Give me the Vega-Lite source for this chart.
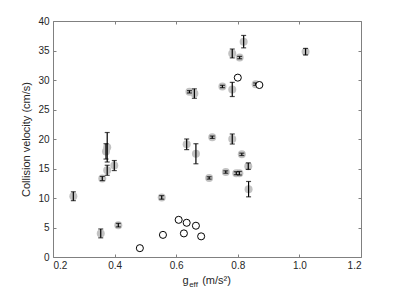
{
  "$schema": "https://vega.github.io/schema/vega-lite/v6.json",
  "autosize": "none",
  "padding": {"left": 53, "top": 21, "right": 38, "bottom": 42},
  "width": 308,
  "height": 236,
  "background": "white",
  "config": {
    "view": {"stroke": "#808080", "strokeWidth": 1},
    "font": "Liberation Sans",
    "axis": {"grid": false, "domainColor": "#808080", "tickColor": "#808080", "labelColor": "#262626", "titleColor": "#262626", "labelFontSize": 10, "titleFontSize": 11, "titleFontWeight": "normal", "tickSize": -3, "labelFont": "Liberation Sans", "titleFont": "Liberation Sans"}
  },
  "datasets": {
    "gray": [
      {"x": 0.266, "y": 10.3, "lo": 9.55, "hi": 11.05},
      {"x": 0.355, "y": 4.0, "lo": 3.25, "hi": 4.75},
      {"x": 0.412, "y": 5.4, "lo": 5.1, "hi": 5.7},
      {"x": 0.36, "y": 13.3, "lo": 12.95, "hi": 13.65},
      {"x": 0.376, "y": 14.7, "lo": 13.85, "hi": 15.55},
      {"x": 0.399, "y": 15.5, "lo": 14.65, "hi": 16.35},
      {"x": 0.372, "y": 17.9, "lo": 16.6, "hi": 19.2},
      {"x": 0.376, "y": 18.6, "lo": 16.1, "hi": 21.1},
      {"x": 0.553, "y": 10.1, "lo": 9.8, "hi": 10.4},
      {"x": 0.634, "y": 19.1, "lo": 18.2, "hi": 20.0},
      {"x": 0.664, "y": 17.5, "lo": 15.8, "hi": 19.2},
      {"x": 0.717, "y": 20.3, "lo": 20.1, "hi": 20.5},
      {"x": 0.707, "y": 13.4, "lo": 13.2, "hi": 13.6},
      {"x": 0.761, "y": 14.4, "lo": 14.2, "hi": 14.6},
      {"x": 0.782, "y": 20.0, "lo": 19.15, "hi": 20.85},
      {"x": 0.813, "y": 17.4, "lo": 17.2, "hi": 17.6},
      {"x": 0.834, "y": 15.4, "lo": 14.85, "hi": 15.95},
      {"x": 0.795, "y": 14.2, "lo": 13.95, "hi": 14.45},
      {"x": 0.805, "y": 14.2, "lo": 13.9, "hi": 14.5},
      {"x": 0.835, "y": 11.5, "lo": 10.2, "hi": 12.8},
      {"x": 0.819, "y": 36.5, "lo": 35.45, "hi": 37.55},
      {"x": 0.782, "y": 34.5, "lo": 33.75, "hi": 35.25},
      {"x": 0.806, "y": 33.8, "lo": 33.6, "hi": 34.0},
      {"x": 1.02, "y": 34.8, "lo": 34.25, "hi": 35.35},
      {"x": 0.75, "y": 28.9, "lo": 28.7, "hi": 29.1},
      {"x": 0.782, "y": 28.4, "lo": 27.2, "hi": 29.6},
      {"x": 0.858, "y": 29.3, "lo": 29.1, "hi": 29.5},
      {"x": 0.643, "y": 28.0, "lo": 27.8, "hi": 28.2},
      {"x": 0.659, "y": 27.7, "lo": 26.9, "hi": 28.5}
    ],
    "open": [
      {"x": 0.482, "y": 1.5},
      {"x": 0.557, "y": 3.75},
      {"x": 0.608, "y": 6.3},
      {"x": 0.634, "y": 5.8},
      {"x": 0.664, "y": 5.3},
      {"x": 0.625, "y": 4.0},
      {"x": 0.681, "y": 3.5},
      {"x": 0.8, "y": 30.4},
      {"x": 0.87, "y": 29.15}
    ]
  },
  "resolve": {"axis": {"x": "independent", "y": "independent"}},
  "layer": [
    {
      "data": {"name": "gray"},
      "mark": {"type": "circle", "size": 64, "color": "#c2c2c2", "opacity": 1},
      "encoding": {
        "x": {"field": "x", "type": "quantitative", "scale": {"domain": [0.2, 1.2], "nice": false, "zero": false},
          "axis": {"orient": "bottom", "values": [0.2, 0.4, 0.6, 0.8, 1, 1.2], "labelPadding": 6, "title": "(m/s²)", "titleX": 163, "titleY": 26, "titleAlign": "center", "titleBaseline": "alphabetic", "titleAnchor": null, "domain": false}},
        "y": {"field": "y", "type": "quantitative", "scale": {"domain": [0, 40], "nice": false, "zero": false},
          "axis": {"orient": "left", "values": [0, 5, 10, 15, 20, 25, 30, 35, 40], "labelPadding": 7, "title": "Collision velocity (cm/s)", "titlePadding": 6, "domain": false}}
      }
    },
    {
      "data": {"name": "gray"},
      "mark": {"type": "rule", "color": "black", "strokeWidth": 1.2},
      "encoding": {
        "x": {"field": "x", "type": "quantitative", "axis": null},
        "y": {"field": "lo", "type": "quantitative", "axis": null},
        "y2": {"field": "hi"}
      }
    },
    {
      "data": {"name": "gray"},
      "mark": {"type": "tick", "orient": "horizontal", "color": "black", "size": 5, "thickness": 1.2},
      "encoding": {
        "x": {"field": "x", "type": "quantitative", "axis": null},
        "y": {"field": "lo", "type": "quantitative", "axis": null}
      }
    },
    {
      "data": {"name": "gray"},
      "mark": {"type": "tick", "orient": "horizontal", "color": "black", "size": 5, "thickness": 1.2},
      "encoding": {
        "x": {"field": "x", "type": "quantitative", "axis": null},
        "y": {"field": "hi", "type": "quantitative", "axis": null}
      }
    },
    {
      "data": {"name": "open"},
      "mark": {"type": "point", "shape": "circle", "size": 50, "filled": false, "fill": "white", "fillOpacity": 1, "stroke": "black", "strokeWidth": 1, "opacity": 1},
      "encoding": {
        "x": {"field": "x", "type": "quantitative",
          "axis": {"orient": "top", "values": [0.2, 0.4, 0.6, 0.8, 1, 1.2], "labels": false, "domain": false, "title": "eff", "titleFontSize": 8, "titleX": 140, "titleY": 265, "titleAlign": "center", "titleBaseline": "alphabetic", "titleAnchor": null}},
        "y": {"field": "y", "type": "quantitative",
          "axis": {"orient": "right", "values": [0, 5, 10, 15, 20, 25, 30, 35, 40], "labels": false, "domain": false, "title": "g", "titleAngle": 0, "titleX": -176, "titleY": 262, "titleAlign": "center", "titleBaseline": "alphabetic", "titleAnchor": null}}
      }
    }
  ]
}
